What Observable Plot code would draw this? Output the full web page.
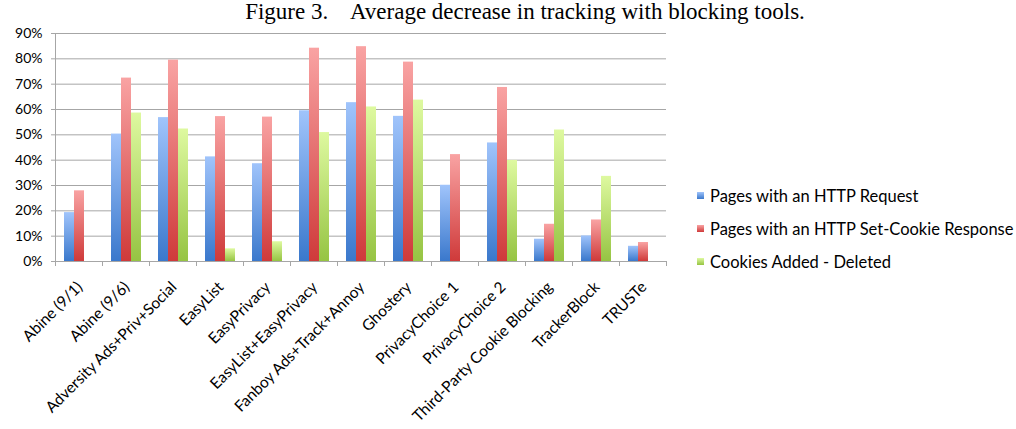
<!DOCTYPE html>
<html><head><meta charset="utf-8">
<script src="https://cdn.jsdelivr.net/npm/d3@7"></script>
<script src="https://cdn.jsdelivr.net/npm/@observablehq/plot@0.6"></script>
<style>
body{margin:0;background:#fff;width:1016px;height:429px;position:relative;overflow:hidden;font-family:Lato,sans-serif}
#title{position:absolute;left:0;top:0;width:1016px;text-align:center;font-family:"Liberation Serif",serif;font-size:23px;line-height:23px;color:#000;white-space:pre;padding-left:34px;box-sizing:border-box}
#chart{position:absolute;left:0;top:22px}
#legend{position:absolute;left:697px;top:179px;font-family:Lato,sans-serif;font-size:16.5px;color:#000}
#legend .item{height:33px;display:flex;align-items:center;white-space:nowrap}
#legend .sw{width:7px;height:7px;margin-right:6px}
</style></head><body>
<div id="title">Figure 3.    Average decrease in tracking with blocking tools.</div>
<div id="chart"></div>
<div id="legend"></div>
<script>
const categories = ["Abine (9/1)", "Abine (9/6)", "Adversity Ads+Priv+Social", "EasyList", "EasyPrivacy", "EasyList+EasyPrivacy", "Fanboy Ads+Track+Annoy", "Ghostery", "PrivacyChoice 1", "PrivacyChoice 2", "Third-Party Cookie Blocking", "TrackerBlock", "TRUSTe"];
const seriesNames = ["Pages with an HTTP Request", "Pages with an HTTP Set-Cookie Response", "Cookies Added - Deleted"];
const httpRequest = [19.3, 50.3, 56.8, 41.3, 38.6, 59.5, 62.7, 57.3, 30.1, 46.8, 8.8, 10.1, 6.0];
const setCookie = [27.9, 72.4, 79.5, 57.2, 57.0, 84.2, 84.8, 78.7, 42.2, 68.7, 14.7, 16.4, 7.5];
const cookiesDeleted = [null, 58.6, 52.3, 5.0, 7.8, 50.9, 61.0, 63.7, null, 39.9, 51.9, 33.6, null];
const yTicks = [0, 10, 20, 30, 40, 50, 60, 70, 80, 90];
const gradients = [["gBlue", "#a0c4fb", "#3a78cc"], ["gRed", "#f9a3a3", "#cf3a3a"], ["gGreen", "#def9a0", "#96c443"]];

const seriesValues = [httpRequest, setCookie, cookiesDeleted];
const data = [];
categories.forEach((c, i) => seriesValues.forEach((arr, j) => {
  if (arr[i] != null) data.push({category: c, series: seriesNames[j], value: arr[i]});
}));

const chart = Plot.plot({
  width: 1016, height: 407,
  marginLeft: 51, marginRight: 346, marginTop: 11, marginBottom: 168,
  style: {fontFamily: "Lato, sans-serif", fontSize: "14px", color: "#000", background: "transparent"},
  fx: {domain: categories, padding: 0, axis: null},
  x: {domain: seriesNames, paddingInner: 0, paddingOuter: 0.73, axis: null},
  y: {domain: [0, 90], axis: null},
  color: {domain: seriesNames, range: gradients.map(g => `url(#${g[0]})`)},
  marks: [
    Plot.ruleY(yTicks, {stroke: "#a6a6a6", strokeWidth: 1}),
    Plot.barY(data, {fx: "category", x: "series", y: "value", fill: "series"}),
    Plot.axisY(yTicks, {tickFormat: d => d + "%", tickSize: 4, tickPadding: 9, stroke: "#a6a6a6", fill: "#000", fontSize: 14, label: null}),
    Plot.axisFx({anchor: "bottom", tickRotate: -45, tickSize: 0, tickPadding: 23, dx: 1, fontSize: 15.5, fill: "#000", label: null})
  ]
});
document.getElementById("chart").appendChild(chart);

// gradients and axis lines
const svg = d3.select(chart);
const defs = svg.insert("defs", ":first-child");
for (const [id, top, bottom] of gradients) {
  const lg = defs.append("linearGradient").attr("id", id).attr("x1", 0).attr("y1", 0).attr("x2", 0).attr("y2", 1);
  lg.append("stop").attr("offset", "0%").attr("stop-color", top);
  lg.append("stop").attr("offset", "100%").attr("stop-color", bottom);
}
const fxS = chart.scale("fx"), yS = chart.scale("y");
const y0 = yS.apply(0), yTop = yS.apply(90);
const g = svg.append("g").attr("stroke", "#a6a6a6").attr("shape-rendering", "crispEdges");
const left = fxS.apply(categories[0]);
g.append("line").attr("x1", left).attr("x2", left).attr("y1", yTop).attr("y2", y0);
const edges = categories.map(c => fxS.apply(c)).concat([fxS.apply(categories[categories.length - 1]) + fxS.bandwidth]);
for (const e of edges) g.append("line").attr("x1", e).attr("x2", e).attr("y1", y0).attr("y2", y0 + 5);

// legend
const legend = d3.select("#legend");
seriesNames.forEach((s, i) => {
  const it = legend.append("div").attr("class", "item");
  it.append("div").attr("class", "sw").style("background", `linear-gradient(${gradients[i][1]}, ${gradients[i][2]})`);
  it.append("span").text(s);
});
</script>
</body></html>
